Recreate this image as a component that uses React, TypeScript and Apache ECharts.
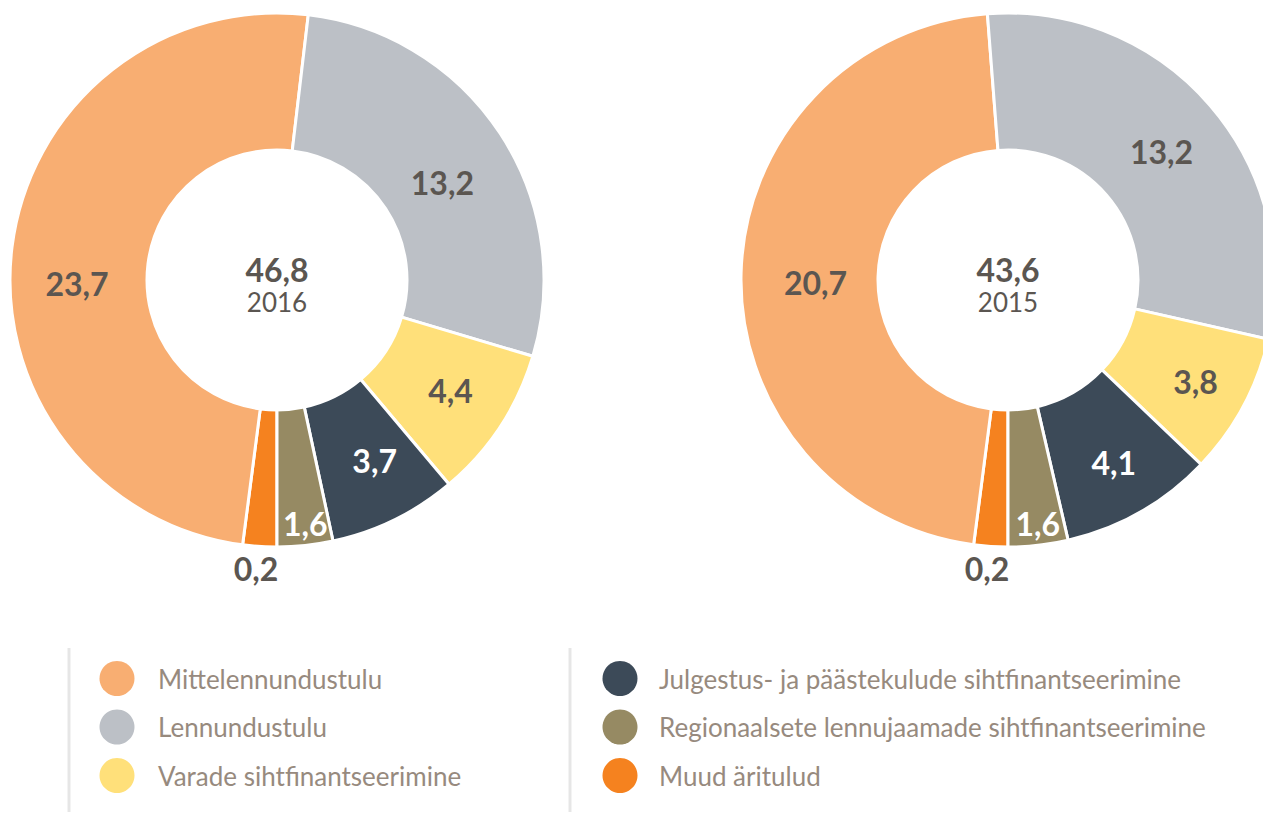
import React, { useEffect, useRef } from "react";
import * as echarts from "echarts";

const categories = [
  "Mittelennundustulu",
  "Lennundustulu",
  "Varade sihtfinantseerimine",
  "Julgestus- ja päästekulude sihtfinantseerimine",
  "Regionaalsete lennujaamade sihtfinantseerimine",
  "Muud äritulud",
];
const values2016 = [23.7, 13.2, 4.4, 3.7, 1.6, 0.2];
const values2015 = [20.7, 13.2, 3.8, 4.1, 1.6, 0.2];
const totals = ["46,8", "43,6"];
const years = ["2016", "2015"];
const colors = ["#F8AE72", "#BCC0C6", "#FFE07A", "#3C4A58", "#968A63", "#F5821F"];
const labelColors = ["#5B5651", "#5B5651", "#5B5651", "#FFFFFF", "#FFFFFF", "#5B5651"];
// drawing order around the ring, clockwise from the bottom
const drawOrder = [5, 0, 1, 2, 3, 4];
// label nudges (per category, legend order) for each chart
const labelShift2016 = [[0, 28], [-3, 13], [5, 0], [9, 0], [7, 43], [-8, 87]];
const labelShift2015 = [[9, 8], [1, 3], [10, 6], [6, 7], [7, 43], [-8, 87]];

const FONT = "Lato, 'Noto Sans', sans-serif";

function fmt(v: number) {
  return v.toFixed(1).replace(".", ",");
}

function buildSeries(values: number[], center: [number, number], shifts: number[][]) {
  return {
    type: "pie",
    center,
    radius: [130, 267],
    startAngle: -90,
    clockwise: true,
    minAngle: 7.4,
    avoidLabelOverlap: false,
    silent: true,
    itemStyle: { borderColor: "#ffffff", borderWidth: 3 },
    label: {
      show: true,
      position: "inside",
      fontFamily: FONT,
      fontWeight: "bold",
      fontSize: 32,
      formatter: (p: any) => fmt(p.value),
    },
    labelLine: { show: false },
    labelLayout: (p: any) => {
      const idx = drawOrder[p.dataIndex ?? 0];
      const s = shifts[idx];
      return { dx: s[0], dy: s[1] };
    },
    data: drawOrder.map((i) => ({
      name: categories[i],
      value: values[i],
      itemStyle: { color: colors[i] },
      label: { color: labelColors[i] },
    })),
  };
}

export default function App() {
  const ref = useRef<HTMLDivElement>(null);
  useEffect(() => {
    if (!ref.current) return;
    const chart = echarts.init(ref.current, null, { renderer: "svg" });
    const centers: [number, number][] = [
      [277, 280],
      [1008, 280],
    ];
    const graphics: any[] = [];
    centers.forEach((c, k) => {
      graphics.push({
        type: "text",
        x: c[0],
        y: 269,
        style: {
          text: totals[k],
          fill: "#5B5651",
          font: `bold 32px ${FONT}`,
          textAlign: "center",
          textVerticalAlign: "middle",
        },
      });
      graphics.push({
        type: "text",
        x: c[0],
        y: 302,
        style: {
          text: years[k],
          fill: "#5B5651",
          font: `26px ${FONT}`,
          textAlign: "center",
          textVerticalAlign: "middle",
        },
      });
    });
    // legend separators
    [69, 570].forEach((x) => {
      graphics.push({
        type: "line",
        shape: { x1: x, y1: 648, x2: x, y2: 812 },
        style: { stroke: "#E6E6E6", lineWidth: 3 },
      });
    });
    // legend items
    categories.forEach((name, i) => {
      const col = Math.floor(i / 3);
      const row = i % 3;
      const cx = col === 0 ? 117 : 620;
      const cy = 678.5 + row * 48.5;
      graphics.push({
        type: "circle",
        shape: { cx, cy, r: 17.5 },
        style: { fill: colors[i] },
      });
      graphics.push({
        type: "text",
        x: cx + (col === 0 ? 41 : 39),
        y: cy,
        style: {
          text: name,
          fill: "#978A7E",
          font: `26px ${FONT}`,
          textAlign: "left",
          textVerticalAlign: "middle",
        },
      });
    });

    chart.setOption({
      animation: false,
      series: [
        buildSeries(values2016, centers[0], labelShift2016),
        buildSeries(values2015, centers[1], labelShift2015),
      ],
      graphic: graphics,
    });
    return () => chart.dispose();
  }, []);
  return (
    <div
      ref={ref}
      style={{ position: "absolute", left: 0, top: 0, width: 1263, height: 813, background: "#fff" }}
    />
  );
}
